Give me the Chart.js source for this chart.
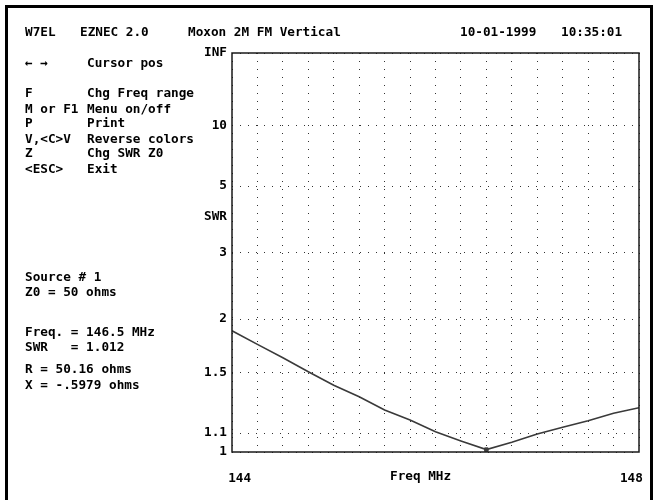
<!DOCTYPE html>
<html><head><meta charset="utf-8">
<script src="https://cdn.jsdelivr.net/npm/chart.js@4/dist/chart.umd.min.js"></script>
<style>
html,body{margin:0;padding:0;background:#fff;}
#wrap{position:relative;width:657px;height:500px;overflow:hidden;background:#fff;}
#c{position:absolute;left:0;top:0;}
.t{position:absolute;font:bold 12.7px 'DejaVu Sans Mono',monospace;line-height:14px;color:#000;white-space:pre;}
.r{text-align:right;}
#frame{position:absolute;left:5px;top:5px;width:648px;height:600px;border:3px solid #000;box-sizing:border-box;}
</style></head>
<body><div id="wrap">
<canvas id="c" width="657" height="500"></canvas>
<div id="frame"></div>
<div class="t" style="left:25px;top:25px">W7EL</div>
<div class="t" style="left:80px;top:25px">EZNEC 2.0</div>
<div class="t" style="left:188px;top:25px">Moxon 2M FM Vertical</div>
<div class="t" style="left:460px;top:25px">10-01-1999</div>
<div class="t" style="left:561px;top:25px">10:35:01</div>

<div class="t" style="left:25px;top:56px">← →</div>
<div class="t" style="left:87px;top:56px">Cursor pos</div>
<div class="t" style="left:25px;top:86px">F</div>
<div class="t" style="left:87px;top:86px">Chg Freq range</div>
<div class="t" style="left:25px;top:102px">M or F1</div>
<div class="t" style="left:87px;top:102px">Menu on/off</div>
<div class="t" style="left:25px;top:116px">P</div>
<div class="t" style="left:87px;top:116px">Print</div>
<div class="t" style="left:25px;top:132px">V,&lt;C&gt;V</div>
<div class="t" style="left:87px;top:132px">Reverse colors</div>
<div class="t" style="left:25px;top:146px">Z</div>
<div class="t" style="left:87px;top:146px">Chg SWR Z0</div>
<div class="t" style="left:25px;top:162px">&lt;ESC&gt;</div>
<div class="t" style="left:87px;top:162px">Exit</div>

<div class="t r" style="left:180px;width:47px;top:209px">SWR</div>

<div class="t" style="left:25px;top:270px">Source # 1</div>
<div class="t" style="left:25px;top:285px">Z0 = 50 ohms</div>
<div class="t" style="left:25px;top:325px">Freq. = 146.5 MHz</div>
<div class="t" style="left:25px;top:340px">SWR   = 1.012</div>
<div class="t" style="left:25px;top:362px">R = 50.16 ohms</div>
<div class="t" style="left:25px;top:378px">X = -.5979 ohms</div>

<div class="t" style="left:390px;top:469px">Freq MHz</div>
</div>
<script>
// Frequencies (MHz) of the plotted points
const freqMHz = [144.0, 144.25, 144.5, 144.75, 145.0, 145.25, 145.5, 145.75, 146.0,
                 146.25, 146.5, 146.75, 147.0, 147.25, 147.5, 147.75, 148.0];
// SWR
const swrValues = [1.873, 1.739, 1.619, 1.504, 1.402, 1.322, 1.235, 1.174, 1.107,
                   1.057, 1.012, 1.050, 1.094, 1.132, 1.170, 1.215, 1.250];
// Cursor
const cursorFreq = [146.5];
const cursorSwr = [1.012];
// Y axis ticks (SWR) and labels
const yTickSwr = [1, 1.1, 1.5, 2, 3, 5, 10, Infinity];
const yTickLabels = ['1', '1.1', '1.5', '2', '3', '5', '10', 'INF'];
// X grid positions and labels
const xGridValues = [144.0, 144.25, 144.5, 144.75, 145.0, 145.25, 145.5, 145.75, 146.0,
                     146.25, 146.5, 146.75, 147.0, 147.25, 147.5, 147.75, 148.0];
const xLabelValues = [144, 148];
const xLabelText = ['144', '148'];

// SWR plotted on a reflection-coefficient scale
const swrToRho = s => isFinite(s) ? (s - 1) / (s + 1) : 1;

const monoFont = {family: "'DejaVu Sans Mono', monospace", size: 12.7, weight: 'bold'};

const boxPlugin = {
  id: 'box',
  afterDraw(chart) {
    const {ctx, chartArea: a} = chart;
    ctx.save();
    ctx.strokeStyle = '#1a1a1a';
    ctx.lineWidth = 1.5;
    ctx.strokeRect(a.left, a.top, a.right - a.left, a.bottom - a.top);
    ctx.restore();
  }
};

new Chart(document.getElementById('c'), {
  type: 'line',
  data: {
    datasets: [
      {
        data: freqMHz.map((f, i) => ({x: f, y: swrToRho(swrValues[i])})),
        borderColor: '#3a3a3a', borderWidth: 1.6, pointRadius: 0, tension: 0, fill: false
      },
      {
        data: cursorFreq.map((f, i) => ({x: f, y: swrToRho(cursorSwr[i])})),
        showLine: false, pointStyle: 'rect', pointRadius: 2.5,
        backgroundColor: '#444', borderColor: '#444', borderWidth: 1
      }
    ]
  },
  options: {
    responsive: false, animation: false, events: [],
    plugins: {legend: {display: false}, tooltip: {enabled: false}},
    layout: {padding: {left: 0, right: 18, top: 53, bottom: 0}},
    scales: {
      x: {
        type: 'linear', min: 144, max: 148,
        afterBuildTicks: s => { s.ticks = xGridValues.map(v => ({value: v})); },
        afterFit: s => { s.height = 48; s.paddingLeft = 0; s.paddingRight = 0; },
        grid: {color: '#333', lineWidth: 1, drawTicks: false},
        border: {display: false, dash: [1, 7]},
        ticks: {
          autoSkip: false, maxRotation: 0, minRotation: 0, padding: 19, color: '#000', font: monoFont,
          callback: v => {
            const i = xLabelValues.indexOf(v);
            if (i < 0) return '';
            return i === 0 ? '  ' + xLabelText[i] : xLabelText[i] + '  ';
          }
        }
      },
      y: {
        type: 'linear', min: 0, max: 1,
        afterBuildTicks: s => { s.ticks = yTickSwr.map(v => ({value: swrToRho(v)})); },
        afterFit: s => { s.width = 232; s.paddingTop = 0; s.paddingBottom = 0; },
        grid: {color: '#333', lineWidth: 1, drawTicks: false},
        border: {display: false, dash: [1, 7]},
        ticks: {
          autoSkip: false, padding: 5, color: '#000', font: monoFont,
          callback: (v, i) => yTickLabels[i]
        }
      }
    }
  },
  plugins: [boxPlugin]
});
</script>
</body></html>
